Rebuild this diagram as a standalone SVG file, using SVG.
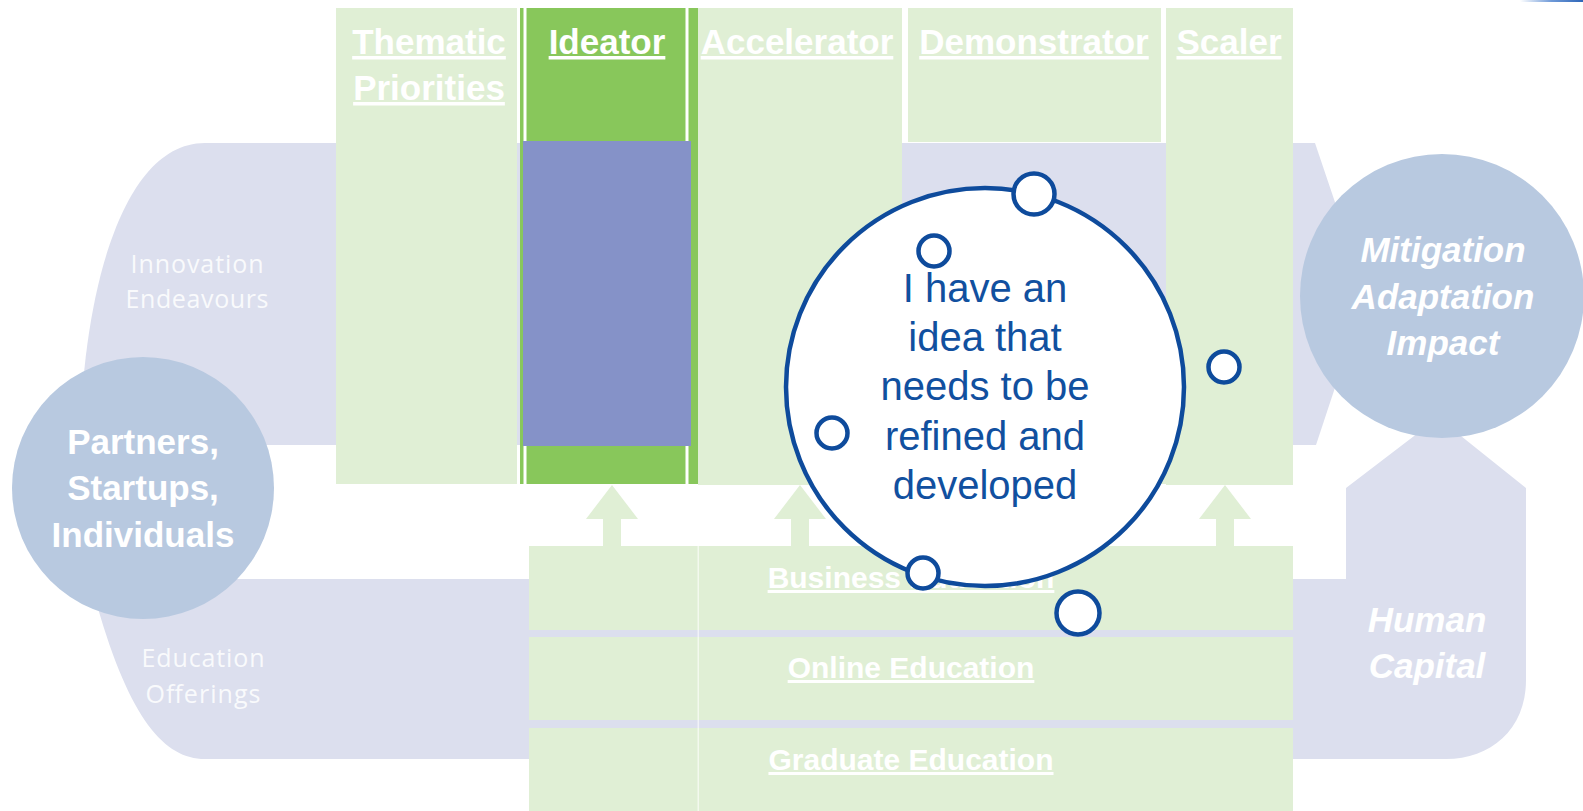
<svg xmlns="http://www.w3.org/2000/svg" width="1583" height="811" viewBox="0 0 1583 811">
<defs>
<linearGradient id="topbar" x1="0" y1="0" x2="1" y2="0">
<stop offset="0" stop-color="#ffffff"/>
<stop offset="0.5" stop-color="#6f9ad8"/>
<stop offset="1" stop-color="#2e66b8"/>
</linearGradient>
<style>
.band{fill:#DCDFEE}
.big{fill:#B8C9E0}
.lg{fill:#E0EFD5}
.bg{fill:#88C75B}
.wl{fill:#FFFFFF}
.hdr{font-family:"Liberation Sans",Arial,sans-serif;font-weight:bold;font-size:35px;fill:#FFFFFF;text-anchor:middle;text-decoration:underline}
.row{font-family:"Liberation Sans",Arial,sans-serif;font-weight:bold;font-size:30px;fill:#FFFFFF;text-anchor:middle;text-decoration:underline}
.lbl{font-family:"Open Sans","Liberation Sans",sans-serif;font-size:25px;fill:#FFFFFF;fill-opacity:0.85;text-anchor:middle}
.cir{font-family:"Liberation Sans",Arial,sans-serif;font-weight:bold;font-size:35px;fill:#FFFFFF;text-anchor:middle}
.it{font-style:italic}
.bub{fill:#FFFFFF;stroke:#0E4B9C;stroke-width:4.5}
.btx{font-family:"Liberation Sans",Arial,sans-serif;font-size:40px;fill:#11509F;text-anchor:middle}
.arr{fill:#E0EFD5}
</style>
</defs>
<rect width="1583" height="811" fill="#FFFFFF"/>
<rect x="1520" y="0" width="63" height="2" fill="url(#topbar)"/>

<g id="band-innovation">
<path class="band" d="M 80 445 C 82 300 120 143 205 143 L 1315 143 L 1366 294 L 1316 445 Z"/>
<text class="lbl" x="197" y="273" textLength="133" lengthAdjust="spacing">Innovation</text>
<text class="lbl" x="197" y="308" textLength="143" lengthAdjust="spacing">Endeavours</text>
</g>

<g id="band-education">
<path class="band" d="M 90 579 L 1346 579 L 1346 488 L 1435 420 L 1441 420 L 1526 488 L 1526 680 C 1526 730 1490 759 1446 759 L 205 759 C 165 759 130 720 97 605 Z"/>
<text class="lbl" x="203" y="667" textLength="123" lengthAdjust="spacing">Education</text>
<text class="lbl" x="203" y="703" textLength="115" lengthAdjust="spacing">Offerings</text>
</g>

<g id="human-capital">
<text class="cir it" x="1427" y="632">Human</text>
<text class="cir it" x="1427" y="678">Capital</text>
</g>

<g id="impact">
<circle class="big" cx="1442" cy="296" r="142"/>
<text class="cir it" x="1443" y="262">Mitigation</text>
<text class="cir it" x="1443" y="309">Adaptation</text>
<text class="cir it" x="1443" y="355">Impact</text>
</g>

<g id="partners">
<circle class="big" cx="143" cy="488" r="131"/>
<text class="cir" x="143" y="454">Partners,</text>
<text class="cir" x="143" y="500">Startups,</text>
<text class="cir" x="143" y="547">Individuals</text>
</g>

<g id="col-thematic">
<rect class="lg" x="336" y="8" width="181" height="476"/>
<text class="hdr" x="429" y="54">Thematic</text>
<text class="hdr" x="429" y="100">Priorities</text>
</g>

<g id="col-ideator">
<rect class="bg" x="520" y="8" width="178" height="476"/>
<rect class="wl" x="523.5" y="8" width="3" height="476"/>
<rect class="wl" x="685.5" y="8" width="3" height="476"/>
<rect fill="#8592C8" x="523" y="141" width="168" height="305"/>
<text class="hdr" x="607" y="54">Ideator</text>
</g>

<g id="col-accelerator">
<rect class="lg" x="698" y="8" width="204" height="477"/>
<text class="hdr" x="797" y="54">Accelerator</text>
</g>

<g id="col-demonstrator">
<rect class="lg" x="908" y="8" width="253" height="134"/>
<rect class="lg" x="902" y="446" width="264" height="38"/>
<text class="hdr" x="1034" y="54">Demonstrator</text>
</g>

<g id="col-scaler">
<rect class="lg" x="1166" y="8" width="127" height="477"/>
<text class="hdr" x="1229" y="54">Scaler</text>
</g>

<g id="row-business">
<rect class="lg" x="529" y="546" width="764" height="84"/>
<text class="row" x="911" y="588">Business Education</text>
</g>
<g id="row-online">
<rect class="lg" x="529" y="637" width="764" height="83"/>
<text class="row" x="911" y="678">Online Education</text>
</g>
<g id="row-graduate">
<rect class="lg" x="529" y="728" width="764" height="83"/>
<text class="row" x="911" y="770">Graduate Education</text>
</g>
<g id="row-divider">
<rect fill="#FFFFFF" fill-opacity="0.6" x="697.5" y="546" width="1.5" height="265"/>
</g>

<g id="connectors">
<path class="arr" d="M 603 546 L 603 519 L 586 519 L 612 485 L 638 519 L 621 519 L 621 546 Z"/>
<path class="arr" d="M 791 546 L 791 519 L 774 519 L 800 485 L 826 519 L 809 519 L 809 546 Z"/>
<path class="arr" d="M 1216 546 L 1216 519 L 1199 519 L 1225 485 L 1251 519 L 1234 519 L 1234 546 Z"/>
</g>

<g id="thought-bubble">
<circle class="bub" cx="985" cy="387" r="199"/>
<circle class="bub" cx="1034" cy="194" r="20.5"/>
<circle class="bub" cx="923" cy="573" r="15.5"/>
<circle class="bub" cx="934" cy="251" r="15.5"/>
<circle class="bub" cx="832" cy="433" r="15.5"/>
<circle class="bub" cx="1224" cy="367" r="15.5"/>
<circle class="bub" cx="1078" cy="613" r="21.5"/>
<text class="btx" x="985" y="302">I have an</text>
<text class="btx" x="985" y="351">idea that</text>
<text class="btx" x="985" y="400">needs to be</text>
<text class="btx" x="985" y="450">refined and</text>
<text class="btx" x="985" y="499">developed</text>
</g>
</svg>
